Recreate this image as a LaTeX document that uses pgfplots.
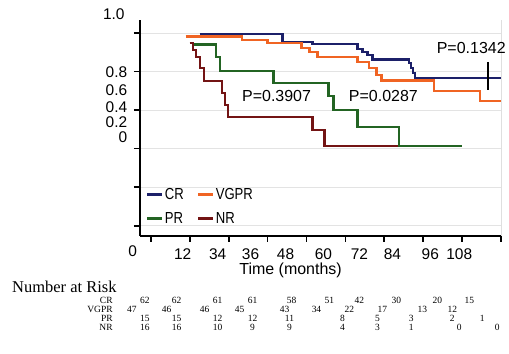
\documentclass[border=0pt]{standalone}
\usepackage{fontspec}
\setmainfont{Liberation Sans}
\newfontfamily\narrow[FakeStretch=0.82]{Liberation Sans}
\newfontfamily\serif{Liberation Serif}
\usepackage{pgfplots}
\pgfplotsset{compat=1.18}
\definecolor{crc}{RGB}{28,32,105}
\definecolor{vgc}{RGB}{240,100,35}
\definecolor{prc}{RGB}{35,100,35}
\definecolor{nrc}{RGB}{115,20,20}
\begin{document}
\begin{tikzpicture}
\path (-140pt,-118pt) rectangle (369pt,236pt);
\begin{axis}[
  at={(0pt,0pt)}, anchor=south west,
  scale only axis, width=362pt, height=216pt,
  xmin=-3.385, xmax=108, ymin=-0.0518, ymax=1.0674,
  axis lines=left, axis line style={-, line width=1.8pt, black},
  xtick={0,12,...,108}, xticklabels={},
  ytick={0,0.2,0.4,0.6,0.8,1.0}, yticklabels={},
  tick align=outside, major tick length=6pt,
  tick style={line width=1.8pt, black},
  ymajorgrids, grid style={gray!22, line width=0.8pt},
  extra x ticks={9.85,20.62,30.77,41.54,53.23,64.31,74.46,86.15,95.08},
  extra x tick labels={12,34,36,48,60,72,84,96,108},
  extra x tick style={major tick length=0pt, grid=none, xticklabel style={yshift=-9.5pt}},
  extra y ticks={0.798,0.705,0.617,0.539,0.461},
  extra y tick labels={0.8,0.6,0.4,0.2,0},
  extra y tick style={major tick length=0pt, grid=none, yticklabel style={xshift=-9pt}},
  ticklabel style={font=\fontsize{15.5}{16}\selectfont},
  /pgf/number format/assume math mode=true,
  clip=false,
  legend columns=2,
  legend cell align=left,
  legend style={draw=none, fill=none, inner sep=0pt, at={(axis cs:-1.54,0.202)}, anchor=north west,
    font=\narrow\fontsize{16}{18}\selectfont, row sep=10pt,
    nodes={inner sep=1pt},
    /tikz/every even column/.append style={column sep=12pt}},
  legend image code/.code={\draw[#1, line width=3pt] (0pt,0pt) -- (15pt,0pt);},
]
\addlegendimage{crc}\addlegendentry{CR}
\addlegendimage{vgc}\addlegendentry{VGPR}
\addlegendimage{prc}\addlegendentry{PR}
\addlegendimage{nrc}\addlegendentry{NR}
% CR
\addplot[crc, line width=2.2pt, const plot, mark=none, forget plot] coordinates {
 (15.08,0.995) (40.62,0.955) (49.85,0.943) (63.69,0.917) (65.23,0.902) (66.77,0.886)
 (68.31,0.862) (79.69,0.845) (80.31,0.819) (80.92,0.793) (81.54,0.767) (108,0.767)};
% VGPR
\addplot[vgc, line width=2.2pt, const plot, mark=none, forget plot] coordinates {
 (10.77,0.982) (28.0,0.964) (36.0,0.948) (46.46,0.922) (48.92,0.902) (51.38,0.876)
 (63.69,0.850) (67.38,0.819) (69.54,0.782) (71.08,0.753) (87.38,0.697) (101.54,0.648) (108,0.648)};
% NR
\addplot[nrc, line width=2.2pt, const plot, mark=none, forget plot] coordinates {
 (12.0,0.948) (12.92,0.912) (13.85,0.876) (15.08,0.819) (16.31,0.751) (21.85,0.689)
 (22.77,0.627) (23.69,0.565) (49.85,0.497) (53.54,0.415) (92.92,0.415)};
% PR
\addplot[prc, line width=2.2pt, const plot, mark=none, forget plot] coordinates {
 (13.23,0.940) (20.0,0.876) (21.23,0.803) (37.85,0.741) (54.77,0.674) (56.31,0.601)
 (63.69,0.513) (76.62,0.412) (96.0,0.412)};
% censor mark
\addplot[black, line width=1.6pt, mark=none, forget plot] coordinates {(104,0.850) (104,0.705)};
\draw[gray!25, line width=0.8pt] (rel axis cs:1,0) -- (rel axis cs:1,1);
\node[font=\fontsize{16}{18}\selectfont] at (axis cs:38.77,0.674) {P=0.3907};
\node[font=\fontsize{16}{18}\selectfont] at (axis cs:71.69,0.674) {P=0.0287};
\node[font=\fontsize{16}{18}\selectfont] at (axis cs:98.77,0.922) {P=0.1342};
\end{axis}
\node[anchor=east, inner sep=0pt, font=\fontsize{15.5}{16}\selectfont] at (-15pt,221.5pt) {1.0};
\node[inner sep=0pt, font=\fontsize{15.5}{16}\selectfont] at (-7pt,-15.5pt) {0};
\node[inner sep=0pt, font=\fontsize{16}{18}\selectfont] at (151pt,-35pt) {Time (months)};
\node[anchor=west, inner sep=0pt, font=\serif\fontsize{16.5}{18}\selectfont] at (-128pt,-51pt) {Number at Risk};
\begin{scope}[every node/.style={inner sep=0pt, font=\serif\fontsize{9.5}{10}\selectfont}]
\node[anchor=east] at (-27pt,-64.5pt) {CR};
\node[anchor=east] at (-27pt,-73.5pt) {VGPR};
\node[anchor=east] at (-27pt,-82.5pt) {PR};
\node[anchor=east] at (-27pt,-92pt) {NR};
\foreach \x/\v in {5/62,37/62,78/61,113/61,152/58,190/51,220/42,257/30,298/20,330/15}
  \node at (\x pt,-64.5pt) {\v};
\foreach \x/\v in {-8/47,27/46,65/46,100/45,145/43,177/34,210/22,243/17,283/13,313/12}
  \node at (\x pt,-73.5pt) {\v};
\foreach \x/\v in {5/15,37/15,78/12,113/12,150/11,203/8,238/5,272/3,313/2,343/1}
  \node at (\x pt,-82.5pt) {\v};
\foreach \x/\v in {5/16,37/16,78/10,113/9,150/9,203/4,238/3,272/1,320/0,358/0}
  \node at (\x pt,-92pt) {\v};
\end{scope}
\end{tikzpicture}
\end{document}
